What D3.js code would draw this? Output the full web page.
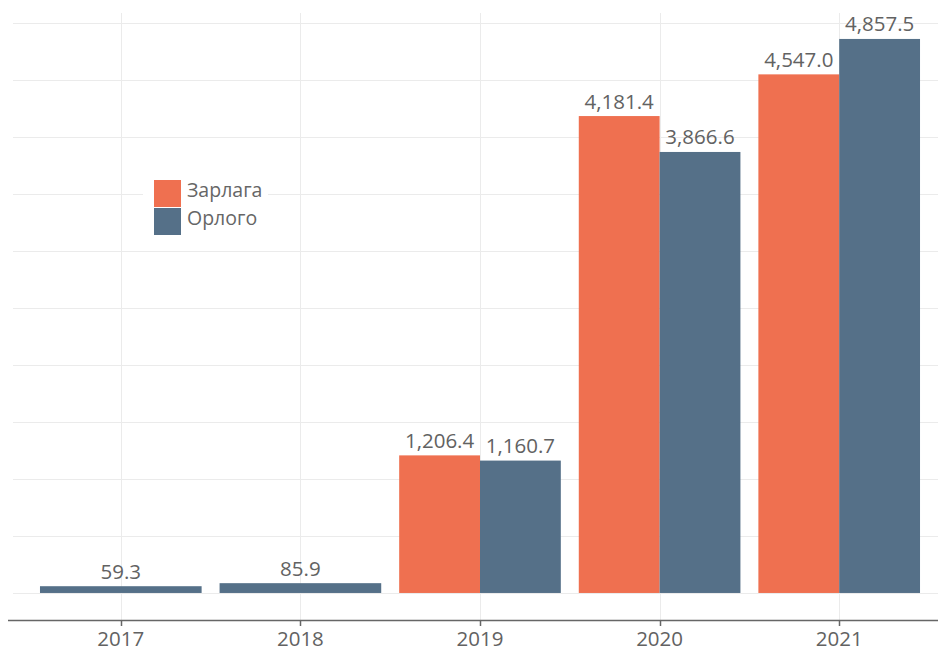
<!DOCTYPE html>
<html>
<head>
<meta charset="utf-8">
<script src="https://cdn.jsdelivr.net/npm/d3@7"></script>
<style>
body{margin:0;background:#fff;}
text{font-family:"Open Sans",sans-serif;}
</style>
</head>
<body>
<div id="chart"></div>
<script>
let width= 938;
let height= 651;

// data
let years= ["2017","2018","2019","2020","2021"];
let zarlaga= [null,null,1206.4,4181.4,4547.0];
let orlogo= [59.3,85.9,1160.7,3866.6,4857.5];
let seriesNames= ["Зарлага","Орлого"];
let colors= ["#ef7050","#557088"];
let yTicks= [0,500,1000,1500,2000,2500,3000,3500,4000,4500,5000];

let fmt= d3.format(",.1f");

let chart= d3.select("#chart")
.append("svg")
.attr("width", width).attr("height", height);

let x= d3.scaleBand().domain(years).range([31,929]).paddingInner(0.1).paddingOuter(0.05);
let y= d3.scaleLinear().domain([-237,5085]).range([620,13]);

// grid
chart.append("g").attr("class","hgrid")
.selectAll("line").data(yTicks).enter().append("line")
.attr("x1",13).attr("x2",width)
.attr("y1",d=>Math.round(y(d))+0.5).attr("y2",d=>Math.round(y(d))+0.5)
.attr("stroke","#ebebeb").attr("stroke-width",1);

chart.append("g").attr("class","vgrid")
.selectAll("line").data(years).enter().append("line")
.attr("x1",d=>Math.round(x(d)+x.bandwidth()/2)+0.5).attr("x2",d=>Math.round(x(d)+x.bandwidth()/2)+0.5)
.attr("y1",13).attr("y2",620)
.attr("stroke","#ebebeb").attr("stroke-width",1);

// bars
let rows= years.map((yr,i)=>({year:yr, vals:[zarlaga[i],orlogo[i]]}));

rows.forEach(function(r){
  let present= r.vals.map((v,k)=>({v:v,k:k})).filter(d=>d.v!==null);
  let bw= x.bandwidth()/present.length;
  let g= chart.append("g");
  g.selectAll("rect").data(present).enter().append("rect")
  .attr("x",(d,j)=>x(r.year)+j*bw)
  .attr("width",bw)
  .attr("y",d=>y(d.v))
  .attr("height",d=>y(0)-y(d.v))
  .attr("fill",d=>colors[d.k]);
  g.selectAll("text").data(present).enter().append("text")
  .attr("x",(d,j)=>x(r.year)+j*bw+bw/2)
  .attr("y",d=>y(d.v)-7.5)
  .attr("text-anchor","middle")
  .attr("font-size","20.5px")
  .attr("fill","#626262")
  .text(d=>fmt(d.v));
});

// x axis
let axis= chart.append("g");
axis.append("line").attr("x1",8).attr("x2",width).attr("y1",620.5).attr("y2",620.5)
.attr("stroke","#666").attr("stroke-width",1.5);
axis.selectAll(".tick").data(years).enter().append("line")
.attr("x1",d=>Math.round(x(d)+x.bandwidth()/2)+0.5).attr("x2",d=>Math.round(x(d)+x.bandwidth()/2)+0.5)
.attr("y1",620).attr("y2",626)
.attr("stroke","#666").attr("stroke-width",1.5);
axis.selectAll("text").data(years).enter().append("text")
.attr("x",d=>x(d)+x.bandwidth()/2)
.attr("y",646)
.attr("text-anchor","middle")
.attr("font-size","20.5px")
.attr("fill","#626262")
.text(d=>d);

// legend
let legend= chart.append("g").attr("transform","translate(154,180)");
legend.append("rect").attr("x",-11).attr("y",-10).attr("width",125).attr("height",70).attr("fill","#fff");
seriesNames.forEach(function(n,i){
  legend.append("rect").attr("x",0).attr("y",i*28).attr("width",27).attr("height",27).attr("fill",colors[i]);
  legend.append("text").attr("x",33).attr("y",i*28+17)
  .attr("font-family","'Liberation Sans',Arial,sans-serif")
  .attr("font-size","19.5px").attr("fill","#666").text(n);
});
</script>
</body>
</html>
